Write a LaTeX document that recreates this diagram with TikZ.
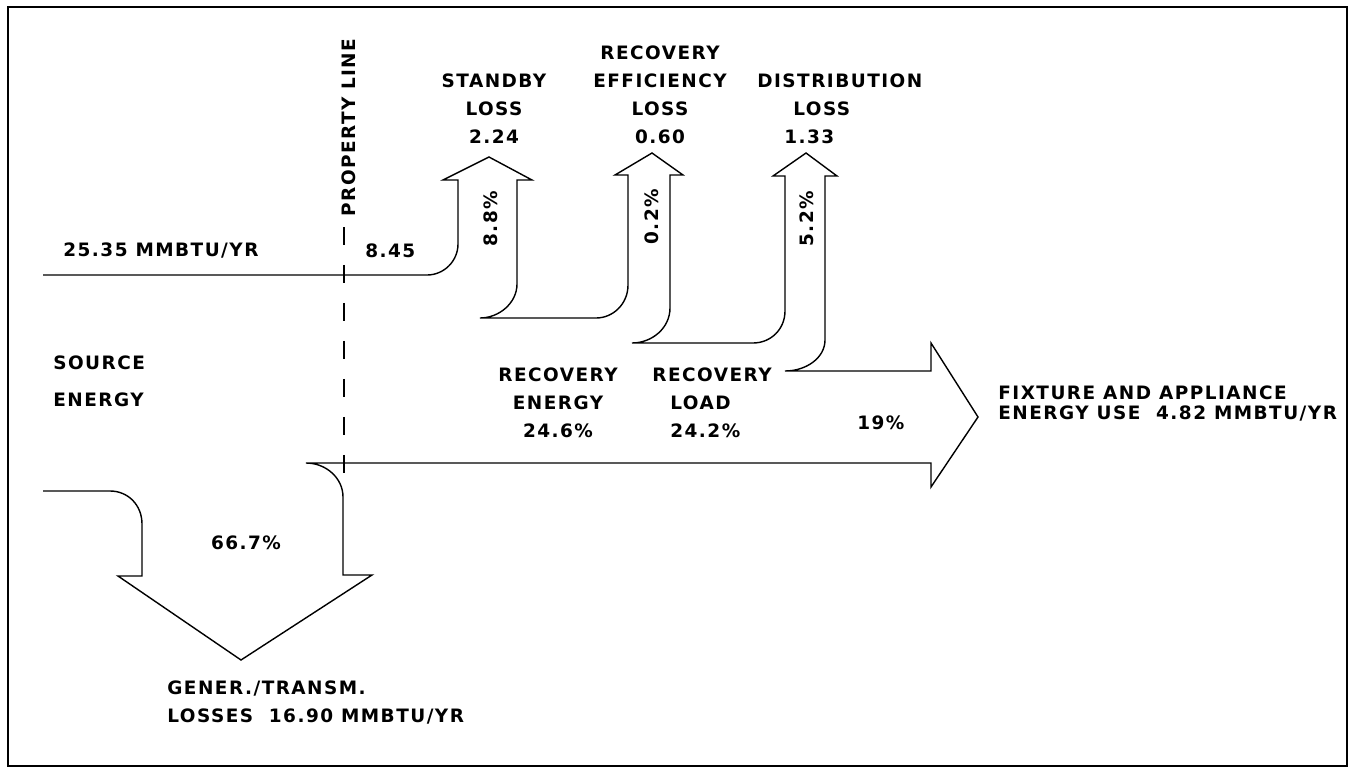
\documentclass[tikz,border=0pt]{standalone}
\usepackage{fontspec}
\setmainfont{DejaVu Sans}
\newfontfamily\lblfont{DejaVu Sans}[LetterSpace=8]
\usetikzlibrary{positioning}
\tikzset{
  lbl/.style={font=\lblfont\fontsize{10.5}{16}\selectfont\bfseries, inner sep=0pt, align=center},
  flow/.style={draw, line width=0.8pt, line join=miter},
  propline/.style={draw, line width=0.8pt, dash pattern=on 0.36cm off 0.4cm},
  frame/.style={draw, line width=1.2pt}
}

\begin{document}
\begin{tikzpicture}[x=0.02cm, y=-0.02cm]
  \useasboundingbox (0,0) rectangle (1353,768);
  \draw[frame] (8,7) rectangle (1347,766);

  % energy flow outline, left to right and back
  \draw[flow] (43,275) -- (427,275)
    .. controls (444,275) and (458,261) .. (458,244) -- (458,180)
    -- (443,180) -- (489,157) -- (532,180) -- (517,180) -- (517,284)
    .. controls (517,303) and (499,318) .. (480,318) -- (596,318)
    .. controls (613,318) and (628,304) .. (628,285) -- (628,175)
    -- (615,175) -- (652,153) -- (683,175) -- (670,175) -- (670,308)
    .. controls (670,328) and (652,343) .. (632,343) -- (753,343)
    .. controls (771,343) and (785,329) .. (785,311) -- (785,176)
    -- (773,176) -- (806,153) -- (837,176) -- (825,176) -- (825,340)
    .. controls (825,358) and (806,371) .. (785,371) -- (931,371)
    -- (931,343) -- (978,417) -- (931,487) -- (931,463) -- (306,463)
    .. controls (326,463) and (343,478) .. (343,497) -- (343,575)
    -- (372,575) -- (241,660) -- (118,576) -- (142,576) -- (142,524)
    .. controls (142,505) and (128,491) .. (110,491) -- (43,491);

  \draw[propline] (344,227) -- (344,473);
  \node[lbl, anchor=base west, rotate=90] (prop) at (355,217) {PROPERTY LINE};

  \node[lbl, anchor=north west] (srcin) at (63,242) {25.35 MMBTU/YR};
  \node[lbl, anchor=north west] (onsite) at (365,243) {8.45};
  \node[lbl, anchor=north] (stby) at (494,73) {STANDBY\\LOSS\\2.24};
  \node[lbl, anchor=north] (receff) at (660,45) {RECOVERY\\EFFICIENCY\\LOSS\\0.60};
  \node[lbl, anchor=north west, align=left] (dist) at (757,73)
    {DISTRIBUTION\\\hspace*{0.72cm}LOSS\\\hspace*{0.54cm}1.33};
  \node[lbl, anchor=base west, rotate=90] (pstby) at (497,247) {8.8\%};
  \node[lbl, anchor=base west, rotate=90] (preff) at (658,245) {0.2\%};
  \node[lbl, anchor=base west, rotate=90] (pdist) at (813,247) {5.2\%};

  \node[lbl, anchor=north west, align=left] (src) at (53,355) {SOURCE\\[5.5pt]ENERGY};
  \node[lbl, anchor=north] (recen) at (558,367) {RECOVERY\\ENERGY\\24.6\%};
  \node[lbl, anchor=north west, align=left] (recld) at (652,367)
    {RECOVERY\\\hspace*{0.36cm}LOAD\\\hspace*{0.36cm}24.2\%};
  \node[lbl, anchor=north west] (puse) at (857,415) {19\%};
  \node[lbl, anchor=north west, align=left] (fixt) at (998,385)
    {FIXTURE AND APPLIANCE\\[-4.5pt]ENERGY USE\ \ 4.82 MMBTU/YR};
  \node[lbl, anchor=north] (ploss) at (246,535) {66.7\%};
  \node[lbl, anchor=north west, align=left] (gen) at (167,680)
    {GENER./TRANSM.\\LOSSES\ \ 16.90 MMBTU/YR};
\end{tikzpicture}
\end{document}
